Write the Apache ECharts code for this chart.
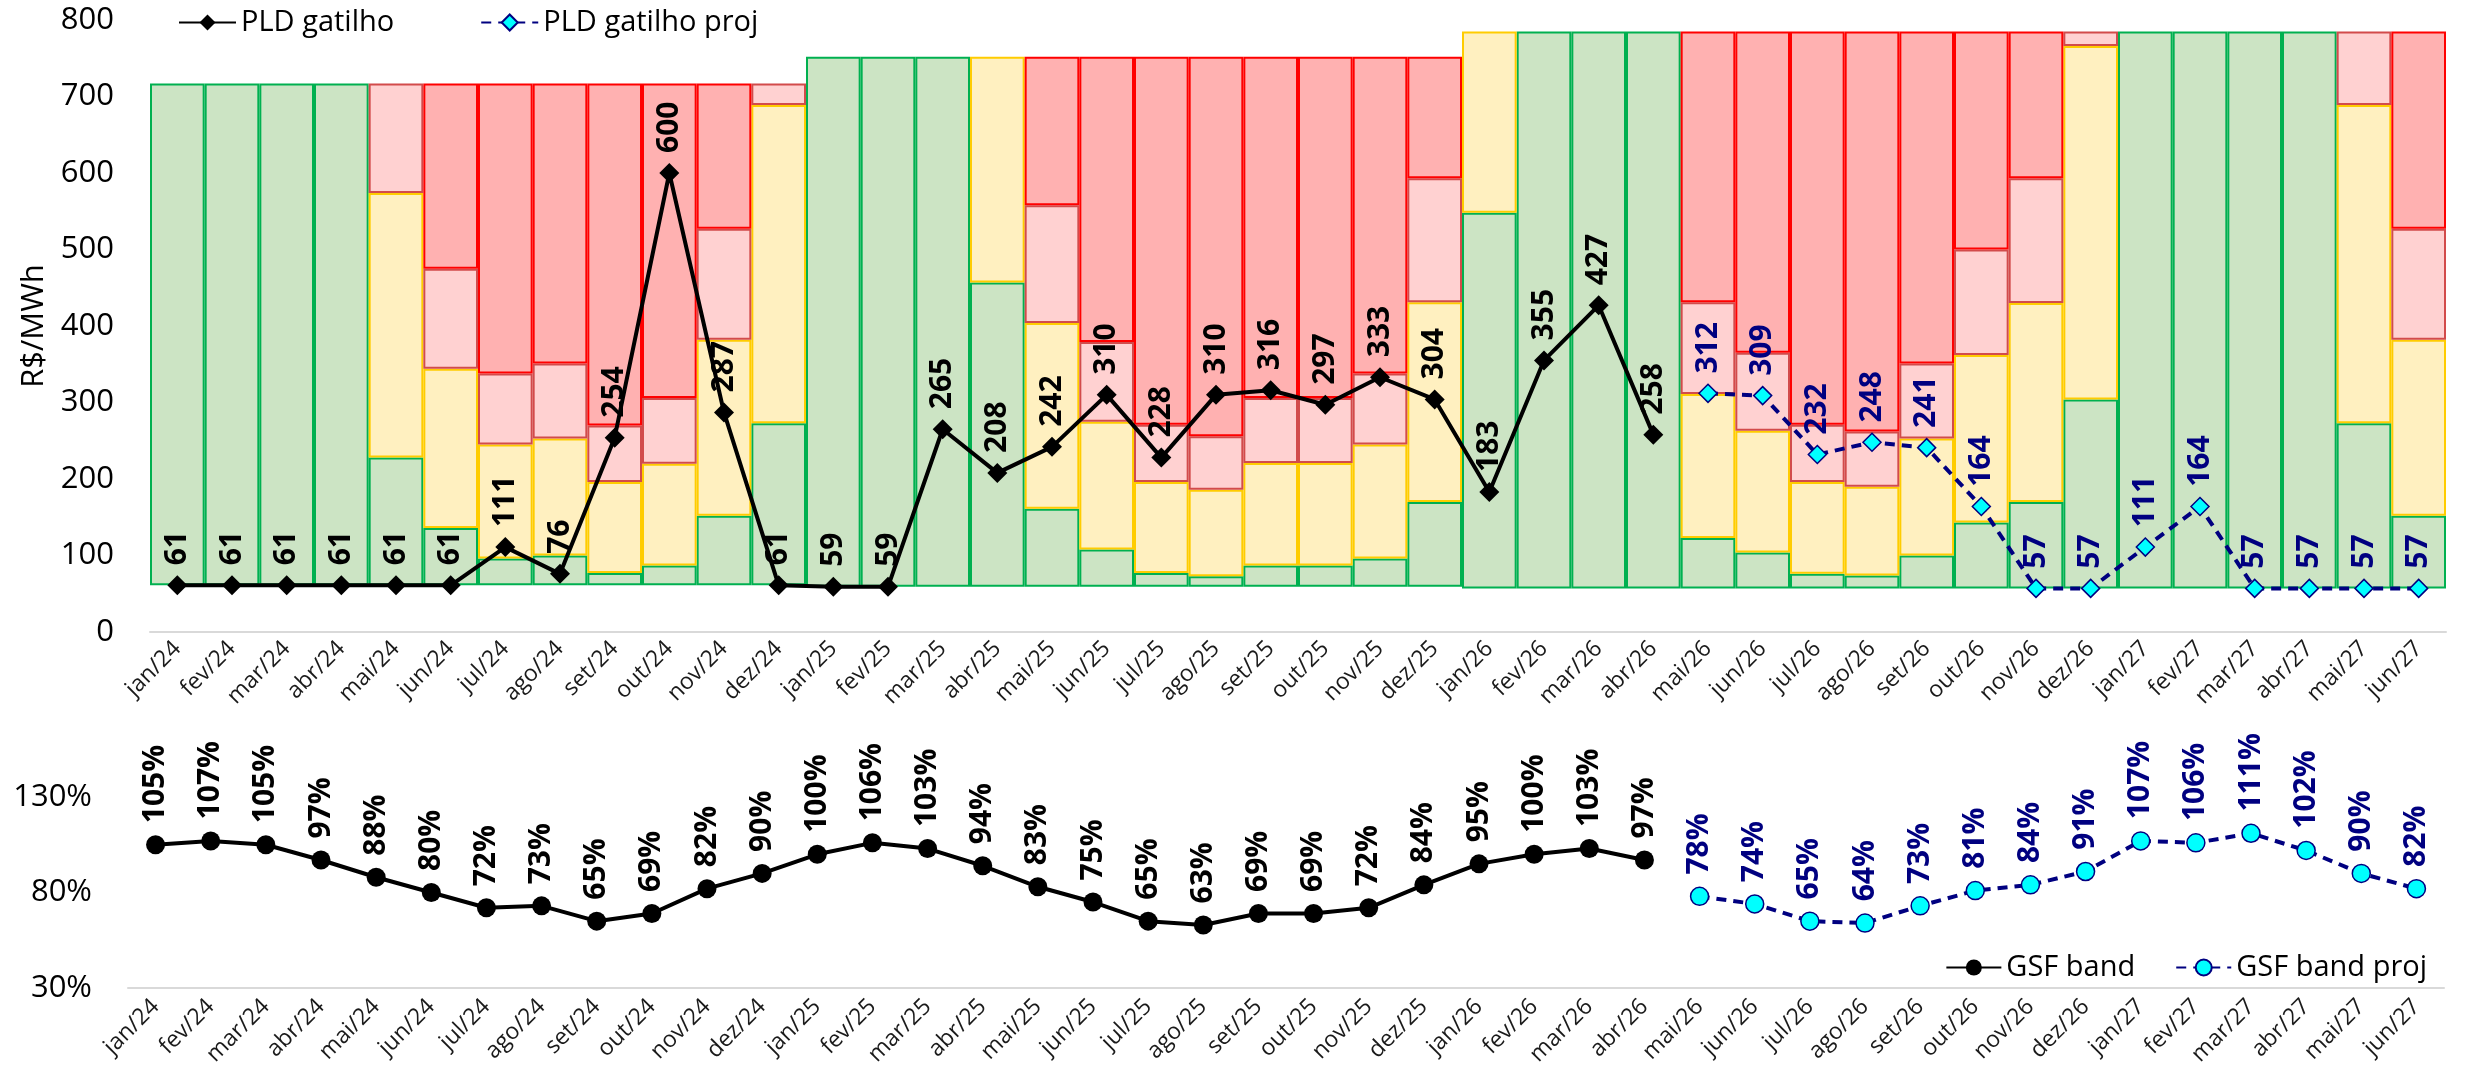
<!DOCTYPE html>
<html>
<head>
<meta charset="utf-8">
<script src="https://cdn.jsdelivr.net/npm/echarts@6/dist/echarts.min.js"></script>
<style>
  html, body { margin: 0; padding: 0; background: #fff; }
  #main { width: 2466px; height: 1072px; }
</style>
</head>
<body>
<div id="main"></div>
<script>
// meses
var months = ['jan/24','fev/24','mar/24','abr/24','mai/24','jun/24','jul/24','ago/24','set/24','out/24','nov/24','dez/24',
  'jan/25','fev/25','mar/25','abr/25','mai/25','jun/25','jul/25','ago/25','set/25','out/25','nov/25','dez/25',
  'jan/26','fev/26','mar/26','abr/26','mai/26','jun/26','jul/26','ago/26','set/26','out/26','nov/26','dez/26',
  'jan/27','fev/27','mar/27','abr/27','mai/27','jun/27'];

// faixas de PLD (piso, limites das bandas, teto)
var pldFloor = [61,61,61,61,61,61,61,61,61,61,61,61, 59,59,59,59,59,59,59,59,59,59,59,59,
  57,57,57,57,57,57,57,57,57,57,57,57, 57,57,57,57,57,57];
var greenTop = [717,717,717,717,228,136,96,100,77,87,152,273, 752,752,752,457,161,108,77,73,87,87,96,170,
  548,785,785,785,123,104,76,74,100,143,170,304, 785,785,785,785,273,152];
var yellowTop = [717,717,717,717,574,344,245,253,196,220,382,689, 752,752,752,752,404,275,196,186,221,221,245,431,
  785,785,785,785,311,263,196,190,253,362,430,766, 785,785,785,785,689,382];
var pinkTop = [717,717,717,717,717,475,338,351,270,306,527,717, 752,752,752,752,558,379,271,256,306,306,338,593,
  785,785,785,785,431,365,271,262,351,500,593,785, 785,785,785,785,785,527];
var pldCap = [717,717,717,717,717,717,717,717,717,717,717,717, 752,752,752,752,752,752,752,752,752,752,752,752,
  785,785,785,785,785,785,785,785,785,785,785,785, 785,785,785,785,785,785];

// PLD gatilho (realizado ate abr/26, projetado depois)
var pldGatilho = [61,61,61,61,61,61,111,76,254,600,287,61, 59,59,265,208,242,310,228,310,316,297,333,304,
  183,355,427,258];
var pldGatilhoProj = [312,309,232,248,241,164,57,57,111,164,57,57,57,57];

// GSF band (%)
var gsfBand = [105,107,105,97,88,80,72,73,65,69,82,90, 100,106,103,94,83,75,65,63,69,69,72,84,
  95,100,103,97];
var gsfBandProj = [78,74,65,64,73,81,84,91,107,106,111,102,90,82];

var nHist = pldGatilho.length;

// altura de cada faixa empilhada
function seg(top, bottom) {
  return top.map(function (t, i) {
    var h = t - bottom[i];
    return h > 0 ? h : '-';
  });
}
function histSeries(vals) {
  return months.map(function (m, i) { return i < vals.length ? vals[i] : '-'; });
}
function projSeries(vals) {
  return months.map(function (m, i) { return i >= nHist ? vals[i - nHist] : '-'; });
}

var FONT = 'Open Sans';
var chart = echarts.init(document.getElementById('main'));

function bandBar(name, data, fill, border) {
  return {
    name: name, type: 'bar', stack: 'pld', xAxisIndex: 0, yAxisIndex: 0,
    barCategoryGap: '0%', data: data, silent: true,
    itemStyle: { color: fill, borderColor: border, borderWidth: 2 }
  };
}

function lineLabel(color) {
  return {
    show: true, position: 'top', distance: 10, rotate: 90,
    align: 'left', verticalAlign: 'middle',
    color: color, fontFamily: FONT, fontWeight: 'bold', fontSize: 30
  };
}

function xLabel(margin) {
  return { fontFamily: FONT, fontSize: 23, color: '#1a1a1a', rotate: 45, margin: margin, interval: 0 };
}

chart.setOption({
  backgroundColor: '#fff',
  animation: false,
  textStyle: { fontFamily: FONT },
  grid: [
    { left: 150, right: 20, top: 20, bottom: 440 },
    { left: 128, right: 22, top: 797, bottom: 84 }
  ],
  legend: [
    {
      data: ['PLD gatilho', 'PLD gatilho proj'],
      left: 173, top: 3, itemWidth: 57, itemHeight: 20, itemGap: 86,
      textStyle: { fontFamily: FONT, fontSize: 29, color: '#000' }
    },
    {
      data: ['GSF band', 'GSF band proj'],
      right: 34, top: 948, itemWidth: 55, itemHeight: 20, itemGap: 40,
      textStyle: { fontFamily: FONT, fontSize: 29, color: '#000' }
    }
  ],
  xAxis: [
    {
      type: 'category', gridIndex: 0, data: months, boundaryGap: true,
      axisLine: { lineStyle: { color: '#D9D9D9', width: 2 } },
      axisTick: { length: 7, lineStyle: { color: '#D9D9D9', width: 2 } },
      axisLabel: xLabel(13)
    },
    {
      type: 'category', gridIndex: 1, data: months, boundaryGap: true,
      axisLine: { lineStyle: { color: '#D9D9D9', width: 2 } },
      axisTick: { length: 7, lineStyle: { color: '#D9D9D9', width: 2 } },
      axisLabel: xLabel(15)
    }
  ],
  yAxis: [
    {
      type: 'value', gridIndex: 0, min: 0, max: 800, interval: 100,
      name: 'R$/MWh', nameLocation: 'middle', nameGap: 98,
      nameTextStyle: { fontFamily: FONT, fontSize: 31, color: '#000' },
      axisLine: { show: false }, axisTick: { show: false }, splitLine: { show: false },
      axisLabel: { fontFamily: FONT, fontSize: 31, color: '#000', margin: 36 }
    },
    {
      type: 'value', gridIndex: 1, min: 30, max: 130, interval: 50,
      axisLine: { show: false }, axisTick: { show: false }, splitLine: { show: false },
      axisLabel: { fontFamily: FONT, fontSize: 31, color: '#000', margin: 36, formatter: '{value}%' }
    }
  ],
  series: [
    {
      name: 'base', type: 'bar', stack: 'pld', xAxisIndex: 0, yAxisIndex: 0,
      barCategoryGap: '0%', data: pldFloor, silent: true,
      itemStyle: { color: 'rgba(0,0,0,0)' }
    },
    bandBar('verde', seg(greenTop, pldFloor), '#CCE4C4', '#00B050'),
    bandBar('amarelo', seg(yellowTop, greenTop), '#FFF0C0', '#FFCC00'),
    bandBar('rosa', seg(pinkTop, yellowTop), '#FFD1D1', '#D24B4B'),
    bandBar('vermelho', seg(pldCap, pinkTop), '#FFB1B1', '#FF0000'),
    {
      name: 'PLD gatilho', type: 'line', xAxisIndex: 0, yAxisIndex: 0, z: 5,
      data: histSeries(pldGatilho),
      symbol: 'diamond', symbolSize: 20,
      lineStyle: { color: '#000', width: 4 },
      itemStyle: { color: '#000' },
      label: lineLabel('#000')
    },
    {
      name: 'PLD gatilho proj', type: 'line', xAxisIndex: 0, yAxisIndex: 0, z: 5,
      data: projSeries(pldGatilhoProj),
      symbol: 'diamond', symbolSize: 18,
      lineStyle: { color: '#000080', width: 4, type: [10, 7] },
      itemStyle: { color: '#00FFFF', borderColor: '#000080', borderWidth: 1.5 },
      label: lineLabel('#000080')
    },
    {
      name: 'GSF band', type: 'line', xAxisIndex: 1, yAxisIndex: 1, z: 5,
      data: histSeries(gsfBand),
      symbol: 'circle', symbolSize: 19,
      lineStyle: { color: '#000', width: 4 },
      itemStyle: { color: '#000' },
      label: Object.assign(lineLabel('#000'), { formatter: '{c}%', distance: 12 })
    },
    {
      name: 'GSF band proj', type: 'line', xAxisIndex: 1, yAxisIndex: 1, z: 5,
      data: projSeries(gsfBandProj),
      symbol: 'circle', symbolSize: 18,
      lineStyle: { color: '#000080', width: 4, type: [10, 7] },
      itemStyle: { color: '#00FFFF', borderColor: '#000080', borderWidth: 1.5 },
      label: Object.assign(lineLabel('#000080'), { formatter: '{c}%', distance: 12 })
    }
  ]
});
</script>
</body>
</html>
